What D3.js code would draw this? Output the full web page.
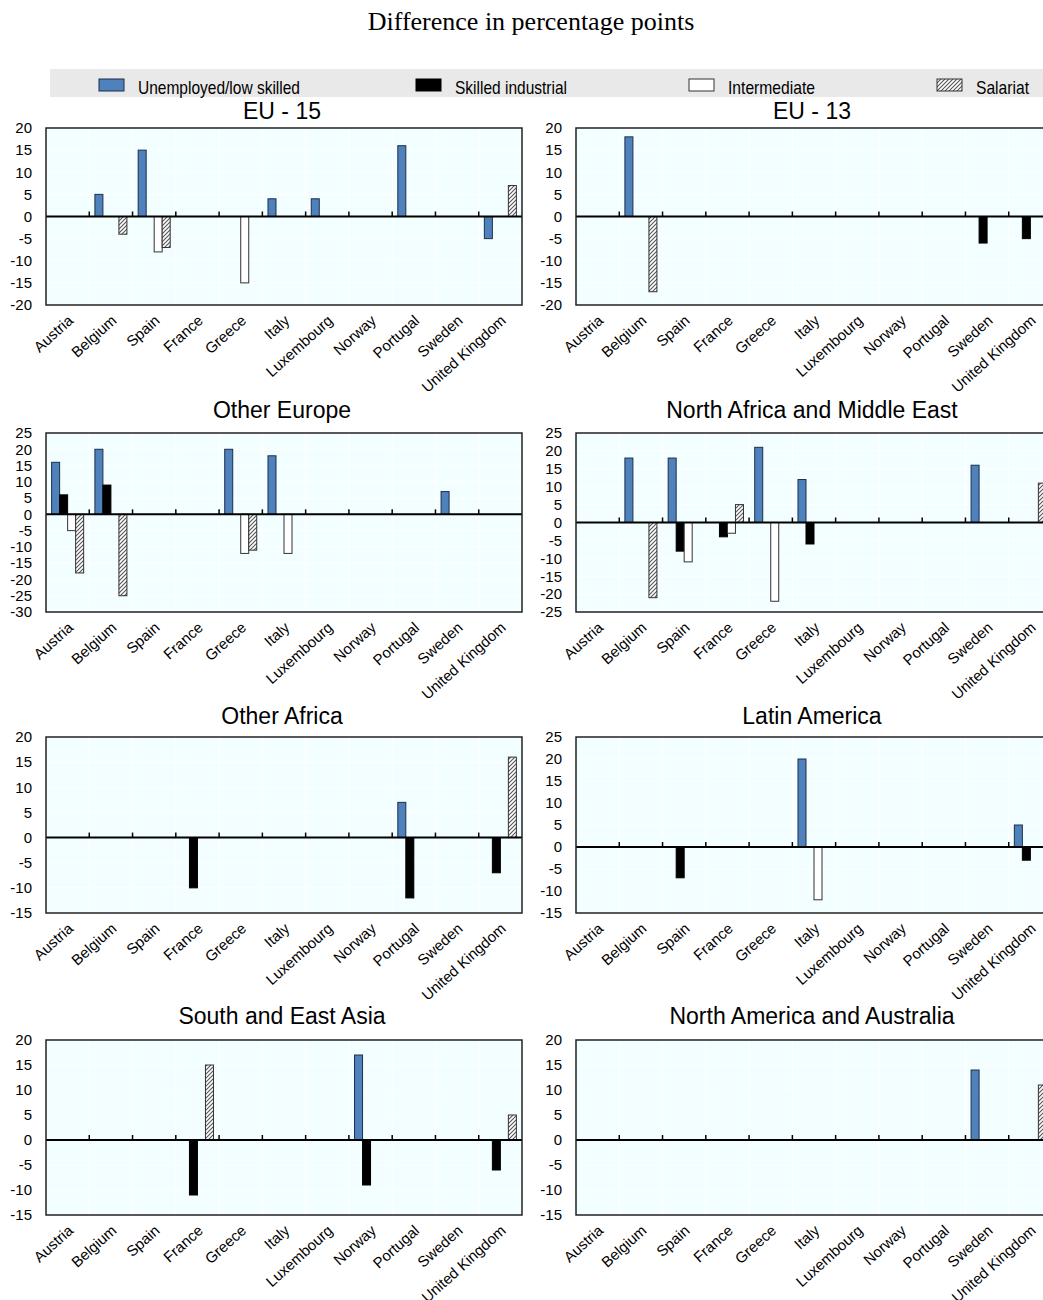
<!DOCTYPE html>
<html>
<head>
<meta charset="utf-8">
<script src="https://cdn.jsdelivr.net/npm/d3@7"></script>
<style>
  html, body { margin: 0; padding: 0; background: #fff; overflow: hidden; }
  svg { display: block; font-family: "Liberation Sans", Arial, sans-serif; }
</style>
</head>
<body>
<svg id="chart" width="1043" height="1300"></svg>
<script>
// Categories and series
const countries = ["Austria", "Belgium", "Spain", "France", "Greece", "Italy",
  "Luxembourg", "Norway", "Portugal", "Sweden", "United Kingdom"];
const seriesNames = ["Unemployed/low skilled", "Skilled industrial", "Intermediate", "Salariat"];
const n = null;

// Values per panel: one row per series (unemployed, skilled industrial, intermediate, salariat)
const eu15Values = [
  [n, 5, 15, n, n, 4, 4, n, 16, n, -5],
  [n, n, n, n, n, n, n, n, n, n, n],
  [n, n, -8, n, -15, n, n, n, n, n, n],
  [n, -4, -7, n, n, n, n, n, n, n, 7]
];
const eu13Values = [
  [n, 18, n, n, n, n, n, n, n, n, n],
  [n, n, n, n, n, n, n, n, n, -6, -5],
  [n, n, n, n, n, n, n, n, n, n, n],
  [n, -17, n, n, n, n, n, n, n, n, n]
];
const otherEuropeValues = [
  [16, 20, n, n, 20, 18, n, n, n, 7, n],
  [6, 9, n, n, n, n, n, n, n, n, n],
  [-5, n, n, n, -12, -12, n, n, n, n, n],
  [-18, -25, n, n, -11, n, n, n, n, n, n]
];
const northAfricaValues = [
  [n, 18, 18, n, 21, 12, n, n, n, 16, n],
  [n, n, -8, -4, n, -6, n, n, n, n, n],
  [n, n, -11, -3, -22, n, n, n, n, n, n],
  [n, -21, n, 5, n, n, n, n, n, n, 11]
];
const otherAfricaValues = [
  [n, n, n, n, n, n, n, n, 7, n, n],
  [n, n, n, -10, n, n, n, n, -12, n, -7],
  [n, n, n, n, n, n, n, n, n, n, n],
  [n, n, n, n, n, n, n, n, n, n, 16]
];
const latinAmericaValues = [
  [n, n, n, n, n, 20, n, n, n, n, 5],
  [n, n, -7, n, n, n, n, n, n, n, -3],
  [n, n, n, n, n, -12, n, n, n, n, n],
  [n, n, n, n, n, n, n, n, n, n, n]
];
const southEastAsiaValues = [
  [n, n, n, n, n, n, n, 17, n, n, n],
  [n, n, n, -11, n, n, n, -9, n, n, -6],
  [n, n, n, n, n, n, n, n, n, n, n],
  [n, n, n, 15, n, n, n, n, n, n, 5]
];
const northAmericaValues = [
  [n, n, n, n, n, n, n, n, n, 14, n],
  [n, n, n, n, n, n, n, n, n, n, n],
  [n, n, n, n, n, n, n, n, n, n, n],
  [n, n, n, n, n, n, n, n, n, n, 11]
];

// Y tick labels per panel
const ticks20to20 = [-20, -15, -10, -5, 0, 5, 10, 15, 20];
const ticks30to25 = [-30, -25, -20, -15, -10, -5, 0, 5, 10, 15, 20, 25];
const ticks25to25 = [-25, -20, -15, -10, -5, 0, 5, 10, 15, 20, 25];
const ticks15to20 = [-15, -10, -5, 0, 5, 10, 15, 20];
const ticks15to25 = [-15, -10, -5, 0, 5, 10, 15, 20, 25];

const panelTitles = ["EU - 15", "EU - 13", "Other Europe", "North Africa and Middle East",
  "Other Africa", "Latin America", "South and East Asia", "North America and Australia"];
const panelValues = [eu15Values, eu13Values, otherEuropeValues, northAfricaValues,
  otherAfricaValues, latinAmericaValues, southEastAsiaValues, northAmericaValues];
const panelTicks = [ticks20to20, ticks20to20, ticks30to25, ticks25to25,
  ticks15to20, ticks15to25, ticks15to20, ticks15to20];

// Layout
const colX = [46, 576];
const plotW = 476;
const rows = [
  { top: 128, bottom: 305, titleY: 119 },
  { top: 433, bottom: 612, titleY: 418 },
  { top: 737, bottom: 913, titleY: 724 },
  { top: 1040, bottom: 1215, titleY: 1024 }
];

const svg = d3.select("#chart");
const defs = svg.append("defs");

// Diagonal hatch for the salariat series
const hatch = defs.append("pattern")
  .attr("id", "hatch")
  .attr("patternUnits", "userSpaceOnUse")
  .attr("width", 4).attr("height", 4);
hatch.append("rect").attr("width", 4).attr("height", 4).attr("fill", "#fff");
hatch.append("path")
  .attr("d", "M-1,1 l2,-2 M0,4 l4,-4 M3,5 l2,-2")
  .attr("stroke", "#555").attr("stroke-width", 1.1);

const seriesFill = ["#4f81bd", "#000000", "#ffffff", "url(#hatch)"];
const seriesStroke = ["#1d2f47", "#000000", "#333333", "#333333"];

// Overall heading
svg.append("text")
  .attr("x", 531).attr("y", 30)
  .attr("text-anchor", "middle")
  .style("font-family", "'Liberation Serif', 'Times New Roman', serif")
  .style("font-size", "26px")
  .attr("fill", "#000")
  .text("Difference in percentage points");

// Legend strip
svg.append("rect")
  .attr("x", 50).attr("y", 69).attr("width", 1000).attr("height", 28)
  .attr("fill", "#e9e9e9");
const legendSwatchX = [99, 416, 689, 937];
const legendTextW = [162, 112, 87, 53];
seriesNames.forEach((name, i) => {
  svg.append("rect")
    .attr("x", legendSwatchX[i]).attr("y", 79)
    .attr("width", 25).attr("height", 12)
    .attr("fill", seriesFill[i])
    .attr("stroke", seriesStroke[i]).attr("stroke-width", 1);
  svg.append("text")
    .attr("x", legendSwatchX[i] + 39).attr("y", 94)
    .attr("textLength", legendTextW[i])
    .attr("lengthAdjust", "spacingAndGlyphs")
    .style("font-size", "19px")
    .attr("fill", "#000")
    .text(name);
});

panelValues.forEach((values, p) => {
  const row = rows[Math.floor(p / 2)];
  const x0 = colX[p % 2];
  const ticks = panelTicks[p];
  const g = svg.append("g");

  const x = d3.scaleBand().domain(countries).range([x0, x0 + plotW]);
  const bw = x.bandwidth();
  const inner = d3.scaleBand().domain(d3.range(4)).range([bw * 0.13, bw * 0.87]);
  const y = d3.scaleLinear().domain(d3.extent(ticks)).range([row.bottom, row.top]);

  // Plot background
  g.append("rect")
    .attr("x", x0).attr("y", row.top)
    .attr("width", plotW).attr("height", row.bottom - row.top)
    .attr("fill", "#f2feff");

  // White grid
  g.selectAll(".hgrid").data(ticks).join("line")
    .attr("x1", x0).attr("x2", x0 + plotW)
    .attr("y1", d => y(d)).attr("y2", d => y(d))
    .attr("stroke", "#ffffff").attr("stroke-width", 1);
  g.selectAll(".vgrid").data(countries.slice(1)).join("line")
    .attr("x1", d => x(d)).attr("x2", d => x(d))
    .attr("y1", row.top).attr("y2", row.bottom)
    .attr("stroke", "#ffffff").attr("stroke-width", 1.2);

  // Bars
  values.forEach((vals, s) => {
    g.selectAll(null)
      .data(vals.map((v, i) => ({ v, c: countries[i] })).filter(d => d.v !== null))
      .join("rect")
      .attr("x", d => x(d.c) + inner(s))
      .attr("width", inner.bandwidth())
      .attr("y", d => y(Math.max(0, d.v)))
      .attr("height", d => Math.abs(y(d.v) - y(0)))
      .attr("fill", seriesFill[s])
      .attr("stroke", seriesStroke[s])
      .attr("stroke-width", 1);
  });

  // Zero line with category separators
  g.append("line")
    .attr("x1", x0).attr("x2", x0 + plotW)
    .attr("y1", y(0)).attr("y2", y(0))
    .attr("stroke", "#000").attr("stroke-width", 2);
  g.selectAll(".sep").data(countries.slice(1)).join("line")
    .attr("x1", d => x(d)).attr("x2", d => x(d))
    .attr("y1", y(0)).attr("y2", y(0) - 5)
    .attr("stroke", "#000").attr("stroke-width", 1.5);

  // Frame
  g.append("rect")
    .attr("x", x0).attr("y", row.top)
    .attr("width", plotW).attr("height", row.bottom - row.top)
    .attr("fill", "none")
    .attr("stroke", "#222").attr("stroke-width", 1.5);

  // Y axis labels (plain hyphen for negatives)
  const yAxis = g.append("g")
    .attr("transform", `translate(${x0},0)`)
    .call(d3.axisLeft(y).tickValues(ticks).tickSize(0).tickPadding(14).tickFormat(d => String(d)));
  yAxis.select(".domain").remove();
  yAxis.selectAll("text")
    .style("font-size", "15px")
    .style("font-family", "'Liberation Sans', Arial, sans-serif")
    .attr("fill", "#000");

  // X axis labels, rotated
  const xAxis = g.append("g")
    .attr("transform", `translate(0,${row.bottom})`)
    .call(d3.axisBottom(x).tickSize(0));
  xAxis.select(".domain").remove();
  xAxis.selectAll("text")
    .attr("x", 0).attr("y", 0).attr("dy", "0.35em")
    .attr("text-anchor", "end")
    .attr("transform", "translate(3,13) rotate(-42)")
    .style("font-size", "15px")
    .style("font-family", "'Liberation Sans', Arial, sans-serif")
    .attr("fill", "#000");

  // Panel title
  svg.append("text")
    .attr("x", x0 + plotW / 2 - 2).attr("y", row.titleY)
    .attr("text-anchor", "middle")
    .style("font-size", "23px")
    .attr("fill", "#000")
    .text(panelTitles[p]);
});
</script>
</body>
</html>
